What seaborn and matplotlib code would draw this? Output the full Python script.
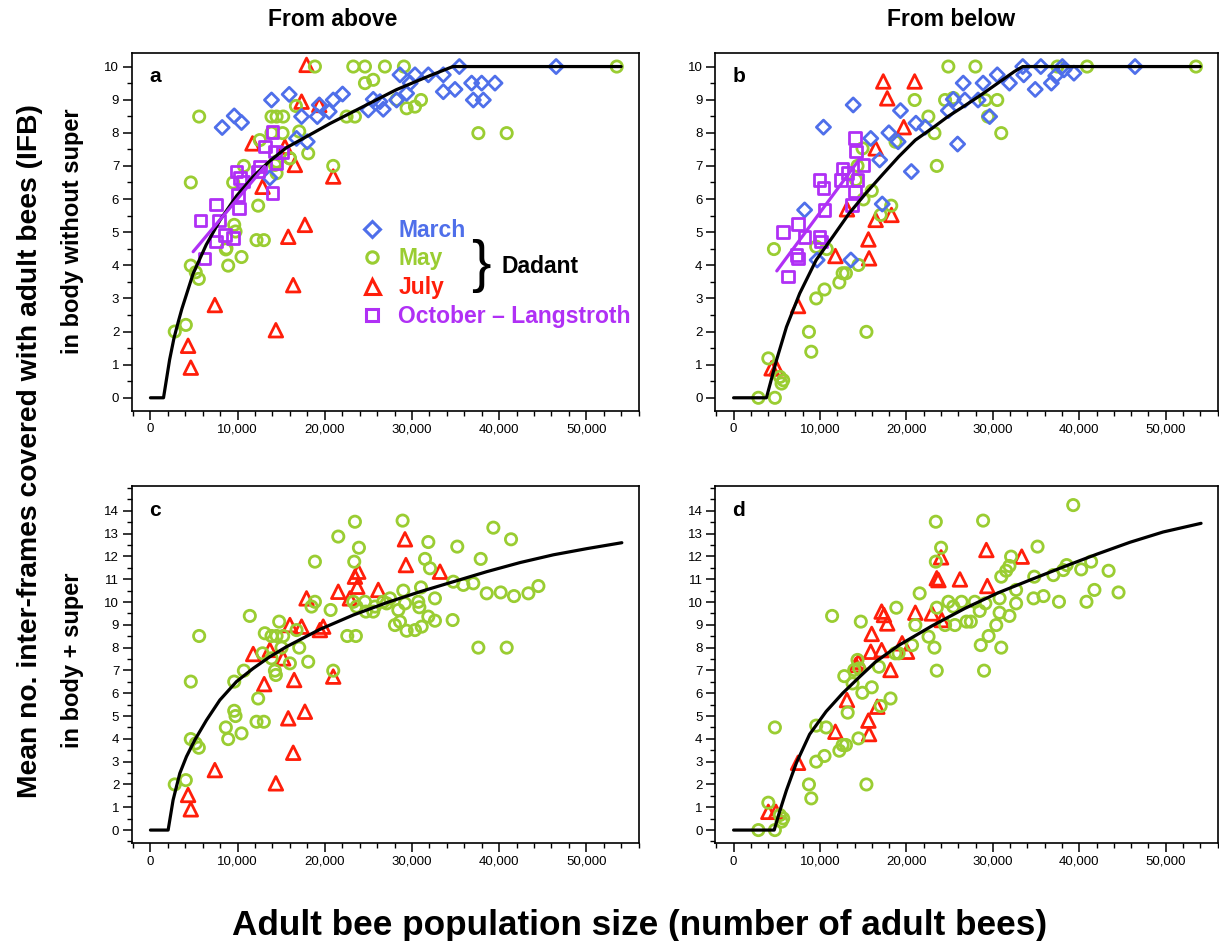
import numpy as np
import pandas as pd
import matplotlib
matplotlib.use("Agg")
import matplotlib.pyplot as plt
import seaborn as sns
from matplotlib.lines import Line2D
from matplotlib.ticker import MultipleLocator

sns.set_theme(style="white")
plt.rcParams['font.family'] = ['Liberation Sans', 'DejaVu Sans']
plt.rcParams['text.color'] = 'black'
plt.rcParams['axes.labelcolor'] = 'black'
plt.rcParams['xtick.color'] = 'black'
plt.rcParams['ytick.color'] = 'black'

# ---------------- data (x in thousands of adult bees) ----------------
# Panel a: from above, body without super
march_a_x = [8.23, 9.61, 10.45, 13.89, 15.92, 17.34, 16.76, 17.99, 19.14, 19.37, 20.97, 22.04, 20.51, 24.99, 25.56, 26.71, 26.33,
             28.63, 29.39, 30.35, 31.88, 33.6, 33.6, 34.94, 35.44, 36.85, 38.0, 37.04, 38.19, 39.53, 46.54, 13.7, 28.24, 29.8]
march_a_y = [8.16, 8.51, 8.31, 8.99, 9.16, 8.49, 7.83, 7.73, 8.49, 8.84, 8.99, 9.17, 8.64, 8.69, 9.01, 8.71, 8.94,
             9.75, 9.19, 9.75, 9.75, 9.75, 9.24, 9.31, 10.0, 9.5, 9.5, 8.99, 8.99, 9.5, 10.0, 6.64, 8.99, 9.5]
may_a_x = [5.59, 4.63, 2.79, 4.06, 4.63, 5.2, 5.55, 9.61, 9.76, 8.65, 8.92, 10.45, 9.49, 10.72, 12.36, 12.17, 13.01, 13.89,
           14.47, 15.23, 15.16, 13.89, 12.55, 14.28, 14.47, 16.0, 17.07, 16.69, 18.1, 18.87, 20.97, 22.5, 23.46, 23.27, 24.61,
           26.9, 29.08, 24.61, 25.56, 28.24, 29.39, 30.35, 31.04, 37.62, 40.87, 53.5, 15.99, 14.46, 8.72]
may_a_y = [8.49, 6.5, 2.0, 2.2, 3.99, 3.79, 3.59, 5.22, 5.02, 4.48, 3.99, 4.25, 6.5, 7.0, 5.8, 4.76, 4.76, 8.49,
           8.49, 8.49, 7.99, 8.0, 7.78, 7.03, 6.78, 7.23, 8.04, 8.81, 7.38, 10.0, 7.0, 8.49, 8.49, 10.0, 10.0,
           10.0, 10.0, 9.5, 9.6, 9.0, 8.74, 8.79, 8.99, 7.99, 7.99, 10.0, 7.23, 7.13, 4.51]
july_a_x = [17.91, 17.34, 19.37, 11.71, 15.43, 16.57, 20.97, 12.86, 15.81, 17.72, 16.38, 7.39, 14.39, 4.32, 4.63]
july_a_y = [10.05, 8.94, 8.84, 7.68, 7.58, 7.03, 6.68, 6.37, 4.86, 5.22, 3.40, 2.8, 2.04, 1.57, 0.91]
oct_a_x = [14.0, 13.12, 14.27, 15.15, 14.46, 12.55, 12.36, 9.87, 10.25, 10.63, 14.0, 10.06, 10.14, 7.5, 5.74, 7.88, 8.53, 9.48, 7.5, 6.23]
oct_a_y = [8.02, 7.58, 7.43, 7.41, 7.08, 6.98, 6.83, 6.83, 6.63, 6.53, 6.18, 6.12, 5.72, 5.84, 5.35, 5.35, 4.92, 4.82, 4.71, 4.21]
curve_a_x = [0, 1.5, 2.2, 2.7, 3.2, 3.6, 4.9, 6.4, 8.0, 9.9, 11.8, 13.7, 15.6, 18.7, 20.6, 24.4, 28.2, 32.1, 34.7, 54.0]
curve_a_y = [0, 0, 1.15, 1.8, 2.3, 2.68, 3.75, 4.62, 5.37, 6.1, 6.68, 7.15, 7.55, 8.0, 8.28, 8.79, 9.3, 9.73, 10.0, 10.0]
oct_fit_a_x = [4.9, 13.1]
oct_fit_a_y = [4.41, 6.98]

# Panel b: from below, body without super
march_b_x = [10.4, 13.84, 8.22, 9.67, 13.57, 15.87, 16.9, 17.97, 19.04, 19.31, 17.2, 20.57, 21.1, 22.17, 25.92, 24.85, 25.42,
             26.76, 26.57, 28.29, 28.87, 29.63, 30.51, 31.92, 33.57, 33.46, 34.9, 35.55, 36.77, 37.27, 38.04, 38.23, 39.38, 46.45]
march_b_y = [8.17, 8.84, 5.67, 4.16, 4.16, 7.83, 7.18, 8.0, 7.73, 8.67, 5.85, 6.83, 8.29, 8.17, 7.66, 8.67, 9.01,
             8.99, 9.5, 8.99, 9.5, 8.49, 9.75, 9.5, 9.75, 10.0, 9.31, 10.0, 9.5, 9.72, 10.0, 9.9, 9.8, 10.0]
may_b_x = [2.87, 4.78, 4.02, 5.36, 5.55, 5.74, 4.67, 8.72, 8.99, 9.56, 10.52, 12.24, 12.62, 13.0, 14.45, 9.56, 10.78,
           15.37, 15.03, 15.99, 17.02, 18.24, 14.15, 14.34, 14.92, 18.74, 20.95, 22.54, 23.24, 23.51, 24.47, 24.85,
           27.98, 29.13, 29.44, 30.51, 30.97, 37.47, 40.9, 53.5, 25.42]
may_b_y = [0.0, 0.0, 1.19, 0.63, 0.43, 0.53, 4.49, 1.99, 1.39, 3.0, 3.27, 3.48, 3.76, 3.76, 4.01, 4.56, 4.49,
           1.99, 5.99, 6.25, 5.52, 5.8, 6.58, 7.0, 7.53, 7.73, 8.99, 8.49, 7.99, 7.0, 8.99, 10.0,
           10.0, 8.99, 8.49, 8.99, 7.99, 10.0, 10.0, 10.0, 9.05]
july_b_x = [4.4, 4.97, 7.46, 11.78, 15.68, 15.6, 16.44, 18.27, 13.12, 16.44, 19.69, 17.78, 17.32, 20.95]
july_b_y = [0.89, 0.89, 2.77, 4.28, 4.21, 4.78, 5.37, 5.52, 5.69, 7.53, 8.17, 9.04, 9.55, 9.55]
oct_b_x = [14.07, 14.15, 15.02, 12.61, 12.43, 13.19, 14.33, 9.94, 10.4, 14.07, 13.69, 10.52, 7.45, 5.73, 8.22, 9.94, 10.14, 7.27, 7.45, 6.31]
oct_b_y = [7.84, 7.43, 7.03, 6.93, 6.58, 6.78, 6.58, 6.58, 6.33, 6.22, 5.82, 5.67, 5.24, 5.0, 4.86, 4.86, 4.71, 4.31, 4.21, 3.66]
curve_b_x = [0, 3.8, 4.97, 6.12, 7.65, 9.56, 11.47, 13.38, 15.29, 17.2, 19.11, 21.03, 22.94, 24.85, 26.76, 28.67, 30.58, 32.49, 33.45, 54.0]
curve_b_y = [0, 0, 1.14, 2.14, 3.15, 4.16, 4.86, 5.57, 6.17, 6.73, 7.28, 7.78, 8.13, 8.5, 8.82, 9.15, 9.5, 9.85, 10.0, 10.0]
oct_fit_b_x = [5.0, 14.5]
oct_fit_b_y = [3.83, 7.18]

# Panel c: from above, body + super
may_c_x = [2.79, 4.06, 4.63, 5.2, 5.55, 5.59, 4.63, 8.65, 8.92, 10.45, 9.61, 9.76, 9.61, 10.72, 11.4, 12.36, 12.17, 13.01,
           13.12, 13.89, 14.77, 14.47, 15.23, 15.04, 13.89, 14.28, 14.39, 12.86, 16.0, 16.76, 17.07, 18.1, 18.48, 18.87,
           18.87, 20.67, 20.97, 21.55, 22.58, 23.57, 23.46, 23.92, 23.38, 23.27, 23.65, 24.61, 24.72, 25.56, 25.76, 26.71,
           27.48, 27.1, 28.44, 28.05, 28.63, 28.93, 29.01, 29.2, 29.39, 30.35, 30.73, 30.85, 31.12, 31.04, 31.5, 31.88,
           32.07, 31.88, 32.64, 32.64, 34.67, 34.75, 35.2, 35.9, 37.04, 37.62, 37.89, 38.58, 39.34, 40.18, 40.87, 41.37,
           41.71, 43.36, 44.51]
may_c_y = [2.0, 2.19, 3.99, 3.8, 3.61, 8.51, 6.51, 4.5, 3.99, 4.24, 5.23, 5.0, 6.51, 6.99, 9.39, 5.77, 4.75, 4.75,
           8.63, 8.51, 9.14, 8.51, 8.51, 8.0, 7.53, 6.99, 6.8, 7.75, 7.31, 8.77, 8.0, 7.38, 9.8, 10.01,
           11.77, 9.65, 6.99, 12.87, 8.51, 8.51, 13.52, 12.38, 11.77, 10.01, 9.8, 10.01, 9.58, 9.58, 9.8, 10.01,
           10.16, 9.94, 9.65, 8.99, 9.14, 13.57, 10.5, 9.94, 8.74, 8.77, 10.01, 9.77, 8.92, 10.64, 11.89, 12.63,
           11.48, 9.36, 10.16, 9.18, 9.21, 10.89, 12.43, 10.75, 10.82, 8.0, 11.89, 10.38, 13.26, 10.42, 8.0, 12.75,
           10.26, 10.38, 10.7]
july_c_x = [4.32, 4.63, 7.39, 14.39, 16.38, 15.81, 17.72, 13.05, 16.49, 20.97, 11.79, 15.23, 13.7, 16.0, 17.34, 19.82,
            19.44, 17.91, 21.55, 22.88, 23.46, 23.84, 23.73, 26.14, 29.2, 29.31, 33.22]
july_c_y = [1.54, 0.91, 2.63, 2.05, 3.39, 4.9, 5.19, 6.4, 6.58, 6.73, 7.72, 7.53, 7.9, 8.99, 8.92, 8.92,
            8.77, 10.16, 10.45, 10.16, 11.11, 11.33, 10.67, 10.53, 12.75, 11.62, 11.33]
curve_c_x = [0, 2.03, 2.6, 3.37, 4.13, 5.09, 6.43, 7.96, 9.87, 11.79, 13.7, 15.61, 19.44, 23.27, 27.09, 30.92, 34.75,
             38.58, 42.41, 46.23, 50.06, 54.08]
curve_c_y = [0, 0, 1.32, 2.49, 3.22, 3.95, 4.82, 5.7, 6.51, 7.09, 7.6, 8.04, 8.8, 9.43, 9.97, 10.45, 10.89,
             11.33, 11.73, 12.07, 12.34, 12.6]

# Panel d: from below, body + super
may_d_x = [2.87, 4.78, 4.02, 5.36, 5.55, 5.74, 4.78, 8.72, 8.99, 9.56, 10.52, 9.56, 10.71, 12.24, 12.62, 13.0, 14.45,
           13.2, 15.37, 14.9, 15.99, 17.02, 18.16, 12.81, 13.77, 13.96, 14.53, 14.72, 14.34, 11.4, 16.82, 18.7, 19.09,
           18.83, 20.65, 21.03, 21.53, 22.56, 23.24, 23.51, 23.4, 24.01, 23.4, 23.51, 24.47, 24.85, 25.42, 25.61, 26.38,
           26.95, 27.45, 27.91, 28.48, 28.6, 28.98, 28.87, 29.13, 29.51, 30.39, 30.78, 30.78, 30.97, 30.97, 31.54, 31.92,
           32.11, 31.92, 32.69, 32.69, 34.79, 34.71, 35.17, 35.86, 37.0, 37.65, 38.15, 38.54, 39.3, 40.22, 40.83, 41.37,
           41.75, 43.39, 44.54]
may_d_y = [0.0, 0.0, 1.2, 0.66, 0.37, 0.51, 4.5, 2.0, 1.39, 3.0, 3.25, 4.58, 4.5, 3.48, 3.73, 3.73, 4.02,
           5.15, 2.0, 6.02, 6.26, 5.44, 5.77, 6.75, 6.43, 7.02, 7.09, 9.14, 7.46, 9.39, 7.16, 7.75, 7.75,
           9.75, 8.11, 8.99, 10.38, 8.48, 8.0, 6.99, 13.52, 12.38, 11.77, 9.75, 8.99, 10.01, 9.8, 8.99, 10.01,
           9.14, 9.14, 10.01, 9.61, 8.11, 6.99, 13.57, 9.94, 8.51, 8.99, 10.16, 9.53, 8.0, 11.11, 11.37, 11.58,
           11.99, 9.39, 9.94, 10.53, 11.11, 10.16, 12.43, 10.26, 11.18, 10.01, 11.4, 11.62, 14.25, 11.43, 10.01, 11.77,
           10.53, 11.37, 10.42]
july_d_x = [4.02, 4.9, 7.46, 11.78, 15.68, 15.6, 16.63, 13.12, 14.45, 14.15, 18.16, 15.98, 15.87, 17.13, 17.13, 17.78,
            17.4, 19.5, 20.07, 21.03, 22.94, 23.7, 23.51, 24.09, 24.01, 26.19, 29.25, 29.36, 33.34]
july_d_y = [0.8, 0.8, 2.95, 4.31, 4.21, 4.8, 5.41, 5.7, 7.38, 7.24, 7.02, 8.6, 7.82, 7.89, 9.58, 9.06,
            9.43, 8.19, 7.82, 9.53, 9.5, 10.96, 11.04, 9.21, 11.96, 10.99, 12.28, 10.7, 11.99]
curve_d_x = [0, 4.7, 5.36, 6.12, 7.27, 8.8, 10.71, 12.62, 14.53, 16.44, 19.11, 22.94, 26.76, 30.58, 34.4, 38.23,
             42.05, 45.87, 49.7, 54.09]
curve_d_y = [0, 0, 0.85, 1.75, 2.95, 4.2, 5.2, 6.0, 6.7, 7.38, 8.1, 8.95, 9.72, 10.4, 10.98, 11.55,
             12.1, 12.62, 13.07, 13.45]

xtick_vals = [0, 10, 20, 30, 40, 50]
xtick_labels = ["0", "10,000", "20,000", "30,000", "40,000", "50,000"]
series_names = ["March", "May", "July", "October \u2013 Langstroth"]

# ---------------- styles ----------------
COL = {"March": "#4F6FEA", "May": "#9ACD32", "July": "#FF1E0A", "Oct": "#B030F5"}
MK = {"March": "D", "May": "o", "July": "^", "Oct": "s"}
SZ = {"March": 52, "May": 66, "July": 96, "Oct": 68}
EW = 2.0

fig = plt.figure(figsize=(12.19, 9.41), dpi=100)
W, H = 1219.0, 941.0


def make_ax(l, r, t, b):
    return fig.add_axes([l / W, 1 - b / H, (r - l) / W, (b - t) / H])


ax_a = make_ax(131.7, 639.0, 53.3, 410.7)
ax_b = make_ax(715.0, 1218.0, 53.3, 410.7)
ax_c = make_ax(131.7, 639.0, 485.7, 843.3)
ax_d = make_ax(715.0, 1218.0, 485.7, 843.3)


def pts(ax, x, y, key):
    df = pd.DataFrame({"x": x, "y": y})
    sns.scatterplot(data=df, x="x", y="y", ax=ax, marker=MK[key], s=SZ[key], color=COL[key],
                    facecolor="none", edgecolor=COL[key], linewidth=EW, legend=False, zorder=3)


def curve(ax, x, y, color="black"):
    df = pd.DataFrame({"x": x, "y": y})
    sns.lineplot(data=df, x="x", y="y", ax=ax, color=color, linewidth=2.3, sort=False,
                 estimator=None, zorder=4)


def style_ax(ax, ymax_major, ylim, letter, lettery):
    ax.set_xlim(-2.15, 56.05)
    ax.set_ylim(*ylim)
    ax.set_xticks(xtick_vals)
    ax.set_xticklabels(xtick_labels)
    ax.xaxis.set_minor_locator(MultipleLocator(2))
    ax.set_yticks(list(range(0, ymax_major + 1)))
    ax.set_yticklabels([str(v) for v in range(0, ymax_major + 1)])
    ax.yaxis.set_minor_locator(MultipleLocator(0.5))
    ax.tick_params(which="major", direction="out", length=6.5, width=1.1, labelsize=9.5, pad=2.5,
                   bottom=True, left=True, color="black", labelcolor="black")
    ax.tick_params(which="minor", direction="out", length=3.6, width=1.0, bottom=True, left=True, color="black")
    for s in ax.spines.values():
        s.set_color("black")
        s.set_linewidth(1.2)
    ax.set_xlabel("")
    ax.set_ylabel("")
    ax.grid(False)
    ax.text(0.034, lettery, letter, transform=ax.transAxes, fontsize=15, fontweight="bold",
            ha="left", va="top", color="black")


# panel a
pts(ax_a, july_a_x, july_a_y, "July")
pts(ax_a, may_a_x, may_a_y, "May")
pts(ax_a, march_a_x, march_a_y, "March")
pts(ax_a, oct_a_x, oct_a_y, "Oct")
curve(ax_a, curve_a_x, curve_a_y)
curve(ax_a, oct_fit_a_x, oct_fit_a_y, COL["Oct"])
style_ax(ax_a, 10, (-0.39, 10.40), "a", 0.963)

# panel b
pts(ax_b, july_b_x, july_b_y, "July")
pts(ax_b, may_b_x, may_b_y, "May")
pts(ax_b, march_b_x, march_b_y, "March")
pts(ax_b, oct_b_x, oct_b_y, "Oct")
curve(ax_b, curve_b_x, curve_b_y)
curve(ax_b, oct_fit_b_x, oct_fit_b_y, COL["Oct"])
style_ax(ax_b, 10, (-0.39, 10.40), "b", 0.963)

# panel c
pts(ax_c, july_c_x, july_c_y, "July")
pts(ax_c, may_c_x, may_c_y, "May")
curve(ax_c, curve_c_x, curve_c_y)
style_ax(ax_c, 14, (-0.58, 15.1), "c", 0.957)

# panel d
pts(ax_d, july_d_x, july_d_y, "July")
pts(ax_d, may_d_x, may_d_y, "May")
curve(ax_d, curve_d_x, curve_d_y)
style_ax(ax_d, 14, (-0.58, 15.1), "d", 0.957)

# legend in panel a
keys = ["March", "May", "July", "Oct"]
lsz = {"March": 8.6, "May": 8.2, "July": 10.8, "Oct": 8.6}
handles = [Line2D([], [], linestyle="none", marker=MK[k], markersize=lsz[k], markerfacecolor="none",
                  markeredgecolor=COL[k], markeredgewidth=2.2) for k in keys]
leg = ax_a.legend(handles, series_names, loc="center left", bbox_to_anchor=(0.4276, 0.384),
                  frameon=False, borderpad=0, handlelength=1.0, handletextpad=0.67, labelspacing=0.26,
                  prop={"weight": "bold", "size": 16.5})
for t, k in zip(leg.get_texts(), keys):
    t.set_color(COL[k])
ax_a.text(0.6886, 0.405, "}", transform=ax_a.transAxes, fontsize=42, ha="center", va="center",
          color="black")
ax_a.text(0.729, 0.4035, "Dadant", transform=ax_a.transAxes, fontsize=16.5, fontweight="bold",
          ha="left", va="center", color="black")

# figure texts
fig.text(333 / W, 1 - 20 / H, "From above", ha="center", va="center", fontsize=16.5, fontweight="bold")
fig.text(951 / W, 1 - 20 / H, "From below", ha="center", va="center", fontsize=16.5, fontweight="bold")
fig.text(30 / W, 1 - 451 / H, "Mean no. inter-frames covered with adult bees (IFB)", rotation=90,
         ha="center", va="center", fontsize=20.3, fontweight="bold")
fig.text(72 / W, 1 - 231 / H, "in body without super", rotation=90, ha="center", va="center",
         fontsize=17, fontweight="bold")
fig.text(72 / W, 1 - 660 / H, "in body + super", rotation=90, ha="center", va="center",
         fontsize=17, fontweight="bold")
fig.text(640 / W, 1 - 925 / H, "Adult bee population size (number of adult bees)", ha="center",
         va="center", fontsize=25.3, fontweight="bold")

fig.savefig("out.png", dpi=100)
